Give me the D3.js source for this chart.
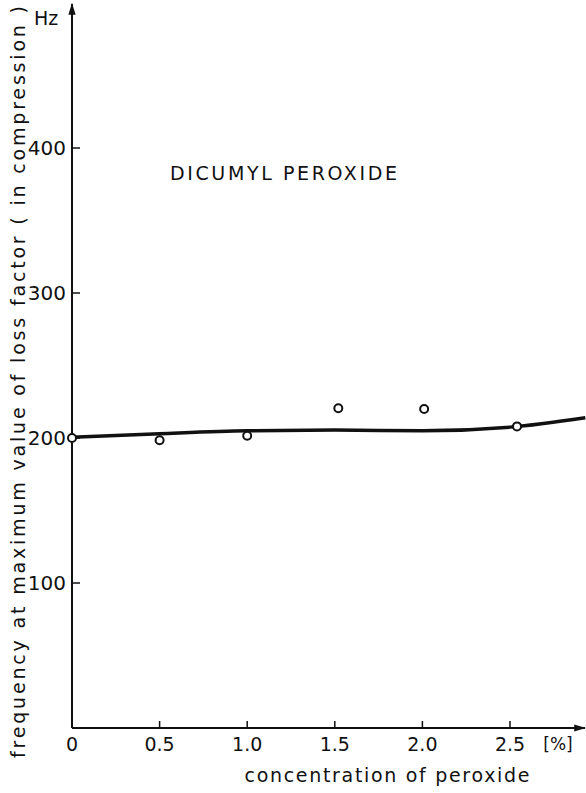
<!DOCTYPE html>
<html>
<head>
<meta charset="utf-8">
<script src="https://cdn.jsdelivr.net/npm/d3@7"></script>
<style>
	body { margin: 0; background: #fff; }
	text { font-family: "DejaVu Sans", sans-serif; fill: #111; }
</style>
</head>
<body>
<svg id="chart" width="586" height="793"></svg>
<script>
/* data */
const xTicks = [0, 0.5, 1.0, 1.5, 2.0, 2.5];
const xTickLabels = ["0", "0.5", "1.0", "1.5", "2.0", "2.5"];
const yTicks = [100, 200, 300, 400];

// measured points (circles)
const pointConc = [0, 0.5, 1.0, 1.52, 2.01, 2.54];
const pointFreq = [200, 198.5, 201.5, 220.5, 220, 208];

// smoothed trend curve
const curveConc = [0, 0.5, 1.0, 1.5, 2.0, 2.5, 2.93];
const curveFreq = [200.5, 203, 205, 205.5, 205, 207.5, 214];

const svg = d3.select("#chart");
const x = d3.scaleLinear().domain([0, 2.5]).range([72, 510]);
const y = d3.scaleLinear().domain([0, 400]).range([728, 148]);

// arrow heads
const defs = svg.append("defs");
defs.append("marker")
	.attr("id", "arrow")
	.attr("viewBox", "0 0 10 10")
	.attr("refX", 9).attr("refY", 5)
	.attr("markerWidth", 6).attr("markerHeight", 6)
	.attr("markerUnits", "strokeWidth")
	.attr("orient", "auto")
	.append("path")
	.attr("d", "M0,2 L10,5 L0,8 Z")
	.attr("fill", "#111");

// axes
svg.append("line")
	.attr("x1", x(0)).attr("x2", 585)
	.attr("y1", y(0)).attr("y2", y(0))
	.attr("stroke", "#111").attr("stroke-width", 2)
	.attr("marker-end", "url(#arrow)");

svg.append("line")
	.attr("x1", x(0)).attr("x2", x(0))
	.attr("y1", y(0)).attr("y2", 4)
	.attr("stroke", "#111").attr("stroke-width", 2)
	.attr("marker-end", "url(#arrow)");

// x ticks (pointing up)
svg.selectAll(".xtick")
	.data(xTicks.slice(1))
	.join("line")
	.attr("x1", d => x(d)).attr("x2", d => x(d))
	.attr("y1", y(0)).attr("y2", y(0) - 7)
	.attr("stroke", "#111").attr("stroke-width", 1.5);

svg.selectAll(".xlab")
	.data(xTicks)
	.join("text")
	.attr("x", d => x(d))
	.attr("y", 751)
	.attr("text-anchor", "middle")
	.attr("font-size", "19px")
	.text((d, i) => xTickLabels[i]);

svg.append("text")
	.attr("x", 558).attr("y", 750)
	.attr("text-anchor", "middle")
	.attr("font-size", "17px")
	.text("[%]");

// y ticks (pointing right)
svg.selectAll(".ytick")
	.data(yTicks)
	.join("line")
	.attr("x1", x(0)).attr("x2", x(0) + 8)
	.attr("y1", d => y(d)).attr("y2", d => y(d))
	.attr("stroke", "#111").attr("stroke-width", 1.5);

svg.selectAll(".ylab")
	.data(yTicks)
	.join("text")
	.attr("x", 66)
	.attr("y", d => y(d) + 7)
	.attr("text-anchor", "end")
	.attr("font-size", "20px")
	.text(d => d);

svg.append("text")
	.attr("x", 34).attr("y", 25)
	.attr("font-size", "19px")
	.text("Hz");

// axis titles
svg.append("text")
	.attr("x", 387).attr("y", 782)
	.attr("text-anchor", "middle")
	.attr("font-size", "19px")
	.attr("textLength", 285)
	.attr("lengthAdjust", "spacing")
	.text("concentration of peroxide");

svg.append("text")
	.attr("transform", "translate(25,382) rotate(-90)")
	.attr("text-anchor", "middle")
	.attr("font-size", "19px")
	.attr("textLength", 752)
	.attr("lengthAdjust", "spacing")
	.text("frequency at maximum value of loss factor ( in compression )");

svg.append("text")
	.attr("x", 170).attr("y", 180)
	.attr("font-size", "19px")
	.attr("textLength", 227)
	.attr("lengthAdjust", "spacing")
	.text("DICUMYL PEROXIDE");

// trend curve
const curve = curveConc.map((c, i) => [c, curveFreq[i]]);
svg.append("path")
	.datum(curve)
	.attr("fill", "none")
	.attr("stroke", "#111")
	.attr("stroke-width", 3.5)
	.attr("d", d3.line()
		.x(d => x(d[0]))
		.y(d => y(d[1]))
		.curve(d3.curveMonotoneX));

// measured points
const points = pointConc.map((c, i) => [c, pointFreq[i]]);
svg.selectAll(".pt")
	.data(points)
	.join("circle")
	.attr("cx", d => x(d[0]))
	.attr("cy", d => y(d[1]))
	.attr("r", 4)
	.attr("fill", "#fff")
	.attr("stroke", "#111")
	.attr("stroke-width", 2);
</script>
</body>
</html>
